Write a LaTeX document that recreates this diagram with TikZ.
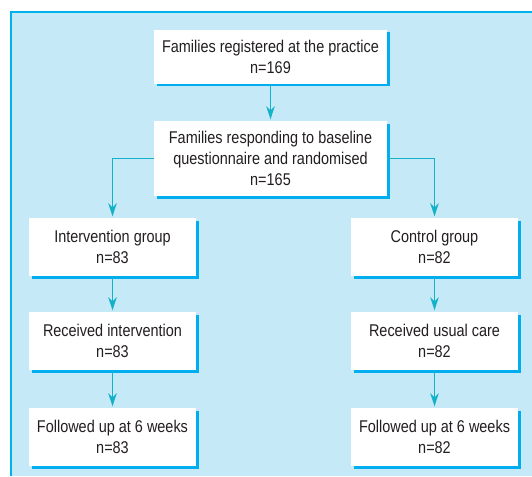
\documentclass[tikz,border=0pt]{standalone}
\usepackage{fontspec}
\setmainfont{Liberation Sans}[FakeStretch=0.85]
\usepackage{xcolor}
\usetikzlibrary{arrows.meta,shadows}

\definecolor{panelfill}{RGB}{198,233,248}
\definecolor{panelline}{RGB}{0,178,236}
\definecolor{shadowcyan}{RGB}{0,174,239}
\definecolor{arrowteal}{RGB}{20,178,200}
\definecolor{textgrey}{RGB}{35,31,32}

\begin{document}
\begin{tikzpicture}[x=1pt,y=-1pt,
  flowbox/.style={fill=white, align=center, inner sep=0pt,
    minimum width=167pt, minimum height=58pt, text=textgrey,
    font=\fontsize{17}{21}\selectfont,
    general shadow={fill=shadowcyan, shadow xshift=2.5pt, shadow yshift=-2.5pt}},
  flowarrow/.style={draw=arrowteal, line width=1.3pt, shorten >=1.5pt,
    -{Stealth[length=13pt,width=8.5pt,inset=4pt]}}]
\useasboundingbox (0,0) rectangle (532,476);

%Panel
\fill[panelfill] (11,12) rectangle (532,476);
\draw[panelline, line width=1.4pt] (11,476) -- (11,12) -- (532,12);

%Top boxes
\node[flowbox, minimum width=233pt, minimum height=54pt] (reg) at (270.5,57)
  {Families registered at the practice\\n=169};
\node[flowbox, minimum width=233pt, minimum height=75pt] (resp) at (270.5,158.5)
  {Families responding to baseline\\questionnaire and randomised\\n=165};

%Intervention arm
\node[flowbox] (igrp) at (112.5,247) {Intervention group\\n=83};
\node[flowbox] (irec) at (112.5,341) {Received intervention\\n=83};
\node[flowbox] (ifol) at (112.5,437) {Followed up at 6 weeks\\n=83};

%Control arm
\node[flowbox] (cgrp) at (434.5,247) {Control group\\n=82};
\node[flowbox] (crec) at (434.5,341) {Received usual care\\n=82};
\node[flowbox] (cfol) at (434.5,437) {Followed up at 6 weeks\\n=82};

%Arrows
\draw[flowarrow] (reg) -- (resp);
\draw[flowarrow] (resp.west) -| (igrp.north);
\draw[flowarrow] (resp.east) -| (cgrp.north);
\draw[flowarrow] (igrp) -- (irec);
\draw[flowarrow] (irec) -- (ifol);
\draw[flowarrow] (cgrp) -- (crec);
\draw[flowarrow] (crec) -- (cfol);
\end{tikzpicture}
\end{document}
